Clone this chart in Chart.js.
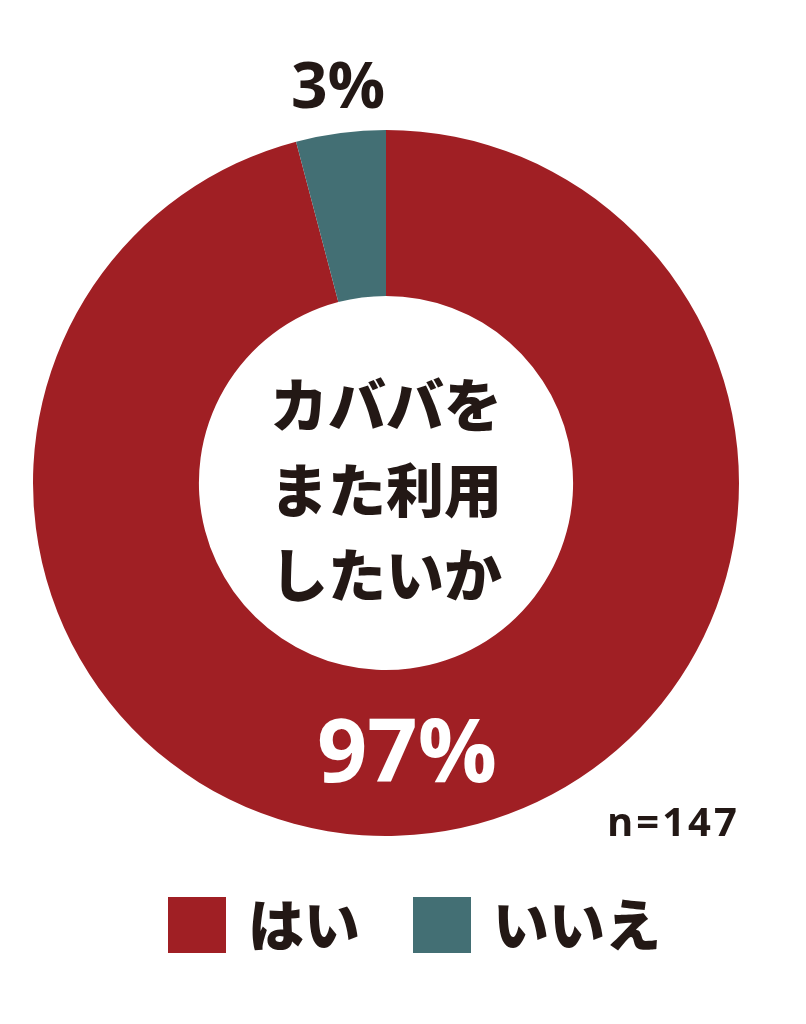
<!DOCTYPE html>
<html>
<head>
<meta charset="utf-8">
<script src="https://cdn.jsdelivr.net/npm/chart.js@4.4.1/dist/chart.umd.min.js"></script>
<style>
  html, body { margin: 0; padding: 0; background: #ffffff; }
  #wrap { position: relative; width: 806px; height: 1024px; }
</style>
</head>
<body>
<div id="wrap"><canvas id="donutChart" width="806" height="1024"></canvas></div>
<script>
// data
var categories = ['はい', 'いいえ'];
var sliceShares = [95.9, 4.1];          // drawn share of the ring (reads ~15 deg for いいえ)
var percentLabels = ['97%', '3%'];      // printed labels
var sampleLabel = 'n=147';
var centerLines = ['カババを', 'また利用', 'したいか'];
var sliceColors = ['#a01f24', '#436f74'];

var jpFont = '"Noto Sans CJK JP", "Noto Sans", sans-serif';
var numFont = '"Open Sans", "Noto Sans", sans-serif';

/* draws center title, percent labels, n and the legend */
var textPlugin = {
    id: 'textPlugin',
    afterDraw: function(chart) {
        var ctx = chart.ctx;
        var arc = chart.getDatasetMeta(0).data[0];
        var cx = arc.x, cy = arc.y;
        ctx.save();
        ctx.textAlign = 'center';
        ctx.textBaseline = 'middle';

        // center title
        ctx.fillStyle = '#231815';
        ctx.font = '900 58px ' + jpFont;
        var lineGap = 85;
        for (var i = 0; i < centerLines.length; i++) {
            ctx.fillText(centerLines[i], cx, cy - 78 + i * lineGap);
        }

        // percent labels
        ctx.font = 'bold 64px ' + numFont;
        ctx.fillStyle = '#231815';
        ctx.fillText(percentLabels[1], cx - 48, 90);
        ctx.font = 'bold 88px ' + numFont;
        ctx.fillStyle = '#ffffff';
        ctx.fillText(percentLabels[0], cx + 21, 757);

        // sample size
        ctx.font = 'bold 40px ' + numFont;
        ctx.fillStyle = '#231815';
        ctx.textAlign = 'left';
        ctx.letterSpacing = '3px';
        ctx.fillText(sampleLabel, 607, 825);
        ctx.letterSpacing = '0px';

        // legend
        var legendX = [168, 413];
        ctx.font = '900 56px ' + jpFont;
        for (var j = 0; j < categories.length; j++) {
            ctx.fillStyle = sliceColors[j];
            ctx.fillRect(legendX[j], 897, 58, 56);
            ctx.fillStyle = '#231815';
            ctx.fillText(categories[j], legendX[j] + 80, 925);
        }
        ctx.restore();
    }
};

function createDonut() {
    var ctx = document.getElementById('donutChart').getContext('2d');
    var chart = new Chart(ctx, {
        type: 'doughnut',
        data: {
            labels: categories,
            datasets: [{
                data: sliceShares,
                backgroundColor: sliceColors,
                borderWidth: 0
            }]
        },
        options: {
            responsive: false,
            animation: false,
            cutout: '53%',
            rotation: 0,
            layout: { padding: { left: 32, right: 66, top: 130, bottom: 188 } },
            plugins: {
                legend: { display: false },
                tooltip: { enabled: false }
            }
        },
        plugins: [textPlugin]
    });
    return chart;
}

createDonut();
</script>
</body>
</html>
